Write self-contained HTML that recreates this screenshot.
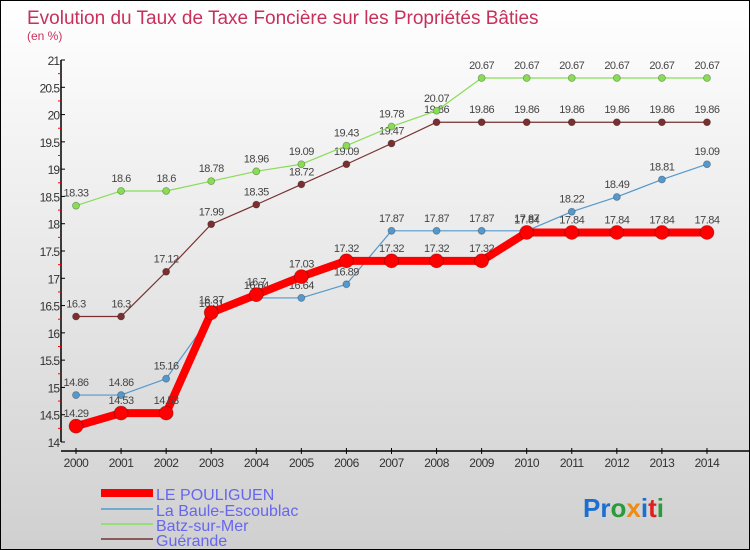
<!DOCTYPE html>
<html><head><meta charset="utf-8"><style>
body{margin:0}
#c{width:748px;height:548px;border:1px solid #000;background:linear-gradient(#ffffff,#d0d0d0);position:relative;overflow:hidden;font-family:"Liberation Sans",sans-serif}
</style></head><body>
<div id="c">
<svg id="s" width="748" height="548" xmlns="http://www.w3.org/2000/svg">
<text x="26" y="23" font-size="19" fill="#c8305a">Evolution du Taux de Taxe Foncière sur les Propriétés Bâties</text>
<text x="26" y="39" font-size="12" fill="#c8305a">(en %)</text>
<g id="axes"></g><g id="series"></g>
<g>
<line x1="100" y1="492" x2="152" y2="492" stroke="#f00" stroke-width="8"/>
<text x="155" y="499" font-size="16" fill="#6666ee">LE POULIGUEN</text>
<line x1="100" y1="508" x2="152" y2="508" stroke="#6fa8d0" stroke-width="2"/>
<text x="155" y="515" font-size="16" fill="#6666ee">La Baule-Escoublac</text>
<line x1="100" y1="523" x2="152" y2="523" stroke="#99dd77" stroke-width="2"/>
<text x="155" y="530" font-size="16" fill="#6666ee">Batz-sur-Mer</text>
<line x1="100" y1="538" x2="152" y2="538" stroke="#8b5a5a" stroke-width="2"/>
<text x="155" y="545" font-size="16" fill="#6666ee">Guérande</text>
</g>
<text x="582" y="516" font-size="26" font-weight="bold"><tspan fill="#1a6fd0">Pr</tspan><tspan fill="#2a9a3a">o</tspan><tspan fill="#f08a10">x</tspan><tspan fill="#1a6fd0">i</tspan><tspan fill="#e02020">t</tspan><tspan fill="#2a9a3a">i</tspan></text>
</svg></div>
<script>
const years=["2000","2001","2002","2003","2004","2005","2006","2007","2008","2009","2010","2011","2012","2013","2014"];
const yTicks=[14,14.5,15,15.5,16,16.5,17,17.5,18,18.5,19,19.5,20,20.5,21];
const pouliguen=[14.29,14.53,14.53,16.37,16.7,17.03,17.32,17.32,17.32,17.32,17.84,17.84,17.84,17.84,17.84];
const baule=[14.86,14.86,15.16,16.31,16.64,16.64,16.89,17.87,17.87,17.87,17.87,18.22,18.49,18.81,19.09];
const batz=[18.33,18.6,18.6,18.78,18.96,19.09,19.43,19.78,20.07,20.67,20.67,20.67,20.67,20.67,20.67];
const guerande=[16.3,16.3,17.12,17.99,18.35,18.72,19.09,19.47,19.86,19.86,19.86,19.86,19.86,19.86,19.86];
const NS="http://www.w3.org/2000/svg";
const X=i=>75+i*45.07, Y=v=>441-(v-14)*54.57;
function mk(t,a,p){const e=document.createElementNS(NS,t);for(const k in a)e.setAttribute(k,a[k]);p.appendChild(e);return e;}
const ax=document.getElementById('axes');
let l=mk('line',{x1:60,y1:59,x2:60,y2:441,stroke:'#000','stroke-width':1.5},ax);

l=mk('line',{x1:60,y1:450,x2:748,y2:450,stroke:'#000','stroke-width':1.5},ax);

yTicks.forEach((v,i)=>{
  const y=Y(v);
  let t=mk('line',{x1:60,y1:y,x2:64,y2:y,stroke:'#000'},ax);
  
  if(i<yTicks.length-1){let m=mk('line',{x1:57,y1:Y(v+0.25),x2:60,y2:Y(v+0.25),stroke:'#f00'},ax);
  }
  let tx=mk('text',{x:58,y:y+5,'font-size':12,fill:'#333','text-anchor':'end','letter-spacing':'-1'},ax);
  tx.textContent=String(v);
});
years.forEach((yr,i)=>{
  const x=X(i);
  let t=mk('line',{x1:x,y1:447,x2:x,y2:453,stroke:'#000'},ax);
  
  let tx=mk('text',{x:x,y:466,'font-size':12,fill:'#333','text-anchor':'middle','letter-spacing':'-0.5'},ax);
  tx.textContent=yr;
});
const sg=document.getElementById('series');
function series(vals,color,w,r,name){
  const g=mk('g',{},sg);
  const p=mk('polyline',{points:vals.map((v,i)=>X(i)+','+Y(v)).join(' '),fill:'none',stroke:color,'stroke-width':w,'stroke-linejoin':'round'},g);
  
  vals.forEach((v,i)=>{
    const c=mk('circle',{cx:X(i),cy:Y(v),r:r,fill:color,stroke:'rgba(0,0,0,0.3)','stroke-width':0.8},g);
    
    const t=mk('text',{x:X(i),y:Y(v)-9,'font-size':11,fill:'#444','text-anchor':'middle','letter-spacing':'-0.5'},g);
    t.textContent=String(v);
  });
}
series(guerande,'#7a3030',1.2,3.5,'guerande');
series(batz,'#88dd55',1.2,3.5,'batz-sur-mer');
series(baule,'#5599cc',1.2,3.5,'la-baule-escoublac');
series(pouliguen,'#ff0000',8,7,'le-pouliguen');
</script>
</body></html>
